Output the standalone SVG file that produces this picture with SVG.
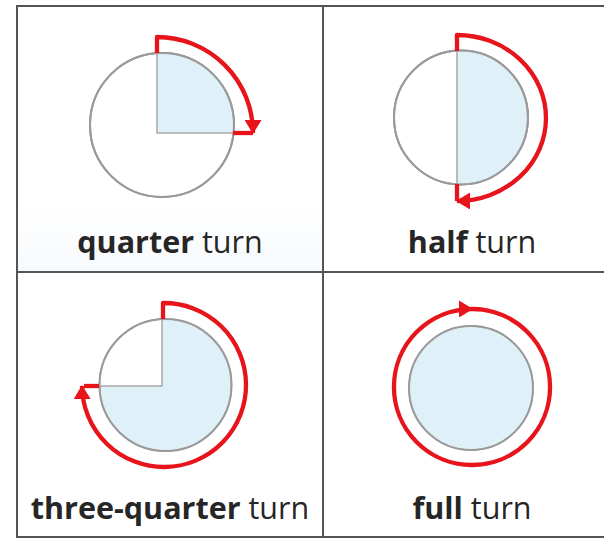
<svg xmlns="http://www.w3.org/2000/svg" width="604" height="538" viewBox="0 0 604 538">
<style>
.grid{stroke:#555;stroke-width:2;fill:none}
.disc{stroke:#9a9a9a;stroke-width:2;fill:#fff}
.pie{fill:#e0f0f9;stroke:#a8a8a8;stroke-width:1.5}
.ring{fill:none;stroke:#9a9a9a;stroke-width:2}
.turn{fill:none;stroke:#e8141b;stroke-width:4.3;stroke-linejoin:round}
.lbl{font-family:"Open Sans","Noto Sans",sans-serif;font-size:30.5px;fill:#262626;text-anchor:middle}
.b{font-weight:bold}
</style>
<defs>
<marker id="ah" markerUnits="userSpaceOnUse" viewBox="0 0 14 17" refX="13" refY="8.5" markerWidth="14" markerHeight="17" orient="auto">
<path d="M0,0 L14,8.5 L0,17 Z" fill="#e8141b"/>
</marker>
<linearGradient id="tint" x1="0" y1="0" x2="0" y2="1">
<stop offset="0" stop-color="#ffffff"/>
<stop offset="1" stop-color="#f7fafd"/>
</linearGradient>
</defs>
<rect x="0" y="0" width="604" height="538" fill="#fff"/>
<rect x="18" y="200" width="304" height="71" fill="url(#tint)"/>
<g id="grid">
<path class="grid" d="M17,6 H604 M17,272 H604 M17,537 H604 M17,5 V538 M323,6 V538"/>
</g>
<g id="quarter">
<circle class="disc" cx="162" cy="125" r="72"/>
<path class="pie" d="M157,133 V53.2 A72,72 0 0 1 233.5,133 Z"/>
<circle class="ring" cx="162" cy="125" r="72"/>
<text class="lbl" x="170" y="253"><tspan class="b">quarter</tspan> turn</text>
</g>
<g id="half">
<circle class="disc" cx="461" cy="117.5" r="67"/>
<path class="pie" d="M457,50.6 A67,67 0 1 1 457,184.4 Z"/>
<circle class="ring" cx="461" cy="117.5" r="67"/>
<text class="lbl" x="472" y="253"><tspan class="b">half</tspan> turn</text>
</g>
<g id="three-quarter">
<circle class="pie" cx="165.5" cy="385" r="66"/>
<path d="M162,386 V319.1 A66,66 0 0 0 99.5,386 Z" fill="#fff" stroke="#a8a8a8" stroke-width="1.5"/>
<circle class="ring" cx="165.5" cy="385" r="66"/>
<text class="lbl" x="170" y="519"><tspan class="b">three-quarter</tspan> turn</text>
</g>
<g id="full">
<circle class="pie" cx="471" cy="388" r="62"/>
<circle class="ring" cx="471" cy="388" r="62"/>
<text class="lbl" x="472" y="519"><tspan class="b">full</tspan> turn</text>
</g>
<g id="connectors">
<path class="turn" d="M157,53 V37 A96,96 0 0 1 253,133" marker-end="url(#ah)"/>
<path class="turn" d="M233,133 H253"/>
<path class="turn" d="M457,51 V35 A89,83 0 0 1 457,201" marker-end="url(#ah)"/>
<path class="turn" d="M457,184 V201"/>
<path class="turn" d="M163,319 V303 A82,82 0 1 1 82,386" marker-end="url(#ah)"/>
<path class="turn" d="M99,386 H84"/>
<path class="turn" d="M472,309 A78,78 0 1 1 472,465 A78,78 0 1 1 472,309" marker-end="url(#ah)"/>
</g>
</svg>
